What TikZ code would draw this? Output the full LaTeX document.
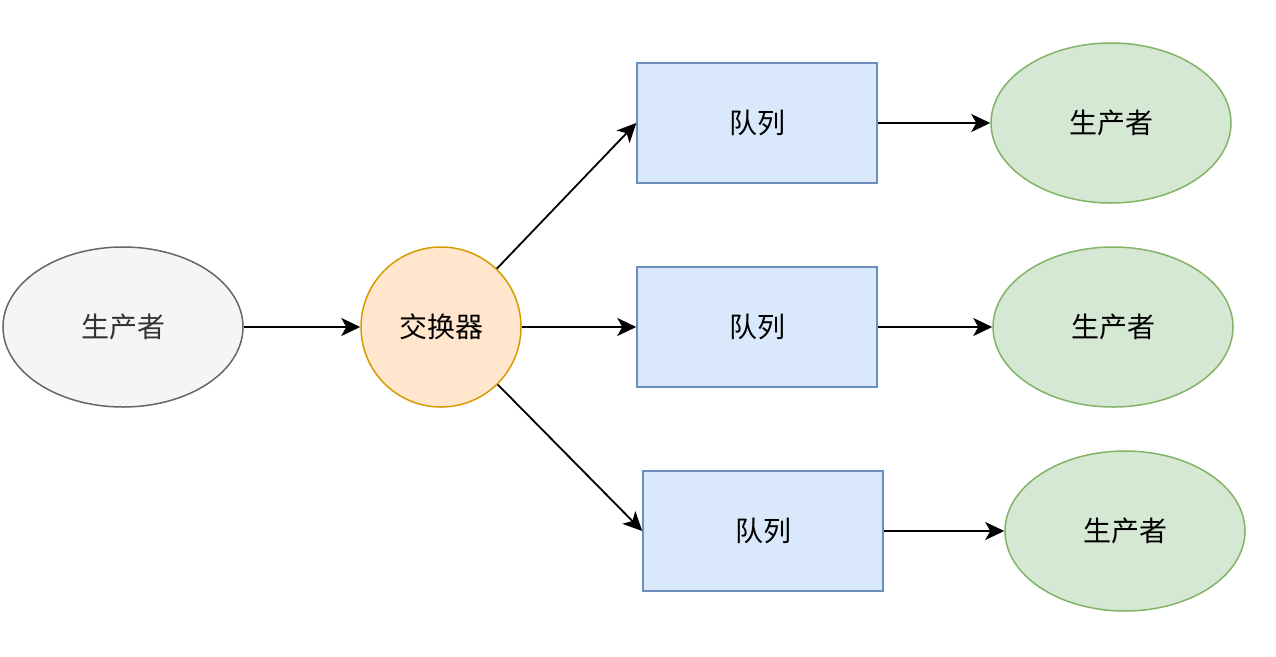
\documentclass[tikz,border=0pt]{standalone}
\usepackage{fontspec}
\setmainfont{Noto Sans CJK SC}
\usetikzlibrary{shapes.geometric,arrows.meta}
\definecolor{gfill}{HTML}{F5F5F5}
\definecolor{gdraw}{HTML}{666666}
\definecolor{gtext}{HTML}{333333}
\definecolor{ofill}{HTML}{FFE6CC}
\definecolor{odraw}{HTML}{D79B00}
\definecolor{bfill}{HTML}{DAE8FC}
\definecolor{bdraw}{HTML}{6C8EBF}
\definecolor{cfill}{HTML}{D5E8D4}
\definecolor{cdraw}{HTML}{82B366}
\tikzset{
  base/.style={line width=1.5pt, inner sep=0pt, font=\fontsize{28}{32}\selectfont},
  producer/.style={base, ellipse, minimum width=240pt, minimum height=160pt, fill=gfill, draw=gdraw, text=gtext},
  exch/.style={base, circle, minimum size=160pt, fill=ofill, draw=odraw},
  queue/.style={base, rectangle, minimum width=240pt, minimum height=120pt, fill=bfill, draw=bdraw},
  consumer/.style={base, ellipse, minimum width=240pt, minimum height=160pt, fill=cfill, draw=cdraw},
  conn/.style={line width=1.8pt, -{Stealth[length=19pt, width=18pt, inset=5pt]}}
}
\begin{document}
\begin{tikzpicture}[x=1pt, y=-1pt]
\useasboundingbox (0,0) rectangle (1276,656);
\node[producer] (p) at (123,327) {生产者};
\node[exch] (ex) at (441,327) {交换器};
\node[queue] (q1) at (757,123) {队列};
\node[queue] (q2) at (757,327) {队列};
\node[queue] (q3) at (763,531) {队列};
\node[consumer] (c1) at (1111,123) {生产者};
\node[consumer] (c2) at (1113,327) {生产者};
\node[consumer] (c3) at (1125,531) {生产者};
\draw[conn] (p) -- (ex);
\draw[conn] (ex) -- (q1.west);
\draw[conn] (ex) -- (q2.west);
\draw[conn] (ex) -- (q3.west);
\draw[conn] (q1) -- (c1);
\draw[conn] (q2) -- (c2);
\draw[conn] (q3) -- (c3);
\end{tikzpicture}
\end{document}
